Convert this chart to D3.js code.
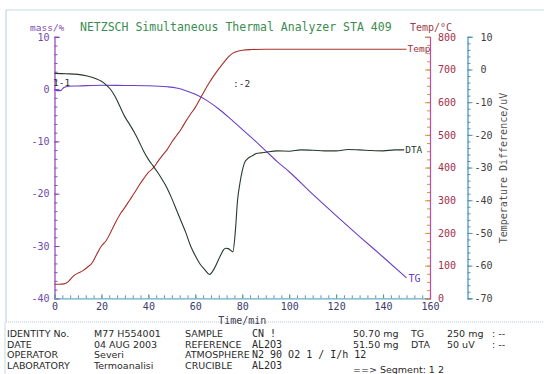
<!DOCTYPE html>
<meta charset="utf-8">
<style>
	body { margin: 0; background: #fff; }
	svg { display: block; }
	text { font-family: "DejaVu Sans Mono", monospace; }
	.info text { font-family: "DejaVu Sans", sans-serif; font-size: 9.5px; fill: #2a2a2a; }
	.info text.mono { font-family: "DejaVu Sans Mono", monospace; font-size: 10px; }
	.domain { stroke-width: 1.2; }
</style>
<body>
<script src="https://d3js.org/d3.v7.min.js"></script>
<script>

	// TG, mass change in %
	var tgTime = [0, 1, 2.5, 4, 6, 10, 20, 30, 40, 48, 52, 56, 60, 65, 70, 75, 80, 85, 90, 95, 100, 110, 120, 130, 140, 150];
	var tgMass = [-0.1, -0.3, -0.3, 0.3, 0.55, 0.6, 0.75, 0.7, 0.65, 0.45, 0.2, -0.3, -1, -2.2, -3.8, -5.7, -7.7, -9.7, -11.8, -13.9, -15.8, -20.1, -24.2, -28.2, -32.1, -36.1];

	// furnace temperature in degC
	var tempTime = [0, 2, 4, 6, 8, 10, 12, 14, 16, 18, 20, 22, 24, 26, 28, 30, 32, 34, 36, 38, 40, 42, 44, 46, 48, 50, 52, 54, 56, 58, 60, 62, 64, 66, 68, 70, 72, 74, 76, 78, 80, 84, 90, 150];
	var tempVals = [43, 43, 44, 52, 68, 77, 84, 95, 108, 135, 160, 176, 203, 232, 258, 278, 300, 322, 345, 366, 385, 398, 418, 437, 455, 478, 498, 518, 542, 564, 584, 610, 636, 660, 682, 702, 720, 738, 750, 756, 759, 761, 762, 762];

	// DTA, temperature difference in uV
	var dtaTime = [0, 5, 10, 14, 18, 20, 22, 24, 26, 28, 30, 32, 34, 36, 38, 40, 42, 44, 46, 48, 50, 52, 54, 56, 58, 60, 62, 64, 66, 68, 70, 71, 72, 73, 74, 75, 76, 77, 78, 79, 80, 81, 82, 84, 86, 88, 90, 95, 100, 105, 110, 115, 120, 125, 130, 135, 140, 145, 149];
	var dtaVals = [-1.2, -1.3, -1.5, -2.0, -2.9, -3.6, -4.7, -6.2, -8.5, -11.5, -14.5, -16.8, -19.2, -22, -25, -27.5, -29.5, -31.5, -33.8, -36.3, -39.5, -43, -46.5, -50, -54, -57, -59.5, -61.2, -62.7, -61, -58, -56.5, -55.2, -54.7, -54.8, -55.3, -55.8, -50, -40, -34.8, -31, -28.5, -27.5, -26.5, -25.7, -25.5, -25.3, -24.9, -25.0, -24.6, -24.7, -24.9, -24.9, -24.5, -24.6, -24.8, -24.9, -24.6, -24.6];

	var timeTicks = [0, 20, 40, 60, 80, 100, 120, 140, 160];
	var massTicks = [-40, -30, -20, -10, 0, 10];
	var tempTicks = [0, 100, 200, 300, 400, 500, 600, 700, 800];
	var dtaTicks = [-70, -60, -50, -40, -30, -20, -10, 0, 10];

	var infoRows = [
		["IDENTITY No.", "M77 H554001", "SAMPLE", "CN !", "50.70 mg", "TG", "250 mg", ": --"],
		["DATE", "04 AUG 2003", "REFERENCE", "AL2O3", "51.50 mg", "DTA", "50 uV", ": --"],
		["OPERATOR", "Severi", "ATMOSPHERE", "N2 90 O2 1 / I/h 12", "", "", "", ""],
		["LABORATORY", "Termoanalisi", "CRUCIBLE", "AL2O3", "", "", "", ""]
	];

	var width = 544, height = 374;

	var svg = d3.select("body").append("svg")
		.attr("width", width)
		.attr("height", height);

	var x = d3.scaleLinear().domain([0, 160]).range([54.5, 430]);
	var yMass = d3.scaleLinear().domain([-40, 10]).range([298.3, 36.8]);
	var yTemp = d3.scaleLinear().domain([0, 800]).range([298.3, 36.8]);
	var yDta = d3.scaleLinear().domain([-70, 10]).range([298.3, 36.8]);

	var plain = function(d) { return String(d); };

	// frame of the printout
	svg.append("path")
		.attr("d", "M6,322V10H544")
		.attr("fill", "none")
		.attr("stroke", "#c4d8e6")
		.attr("stroke-width", 1.2);
	svg.append("line")
		.attr("x1", 6).attr("x2", 544).attr("y1", 322).attr("y2", 322)
		.attr("stroke", "#b8c4cc")
		.attr("stroke-dasharray", "1,1");
	svg.append("line")
		.attr("x1", 5).attr("x2", 5).attr("y1", 322).attr("y2", 374)
		.attr("stroke", "#c4d8e6");

	// minor ticks
	function minor(axis, ticks, color) {
		return function(g) {
			g.call(axis.tickValues(ticks).tickFormat(""));
			g.select(".domain").remove();
			g.selectAll("line").attr("stroke", color);
		};
	}

	svg.append("g")
		.attr("transform", "translate(" + x.range()[0] + ",0)")
		.call(minor(d3.axisLeft(yMass).tickSize(-3), d3.range(-40, 10.01, 10 / 6), "#8a50c0"));
	svg.append("g")
		.attr("transform", "translate(0," + yMass.range()[0] + ")")
		.call(minor(d3.axisBottom(x).tickSize(-3), d3.range(0, 160.01, 20 / 6), "#5a9ab0"));
	svg.append("g")
		.attr("transform", "translate(430,0)")
		.call(minor(d3.axisRight(yTemp).tickSize(-3), d3.range(0, 800.01, 25), "#c8a030"));
	svg.append("g")
		.attr("transform", "translate(467.5,0)")
		.call(minor(d3.axisRight(yDta).tickSize(3), d3.range(-70, 10.01, 2), "#4a9ab8"));

	// main axes
	var massAxis = svg.append("g")
		.attr("transform", "translate(" + x.range()[0] + ",0)")
		.call(d3.axisLeft(yMass).tickValues(massTicks).tickFormat(plain).tickSize(-5).tickPadding(5));
	massAxis.select(".domain").attr("stroke", "#9040c0");
	massAxis.selectAll(".tick line").attr("stroke", "#9040c0");
	massAxis.selectAll("text").attr("fill", "#7048b0").style("font-size", "10px");

	var timeAxis = svg.append("g")
		.attr("transform", "translate(0," + yMass.range()[0] + ")")
		.call(d3.axisBottom(x).tickValues(timeTicks).tickFormat(plain).tickSize(-4).tickPadding(5));
	timeAxis.select(".domain").attr("stroke", "#6aaac4");
	timeAxis.selectAll(".tick line").attr("stroke", "#50a070");
	timeAxis.selectAll("text").attr("fill", "#3a3a6a").style("font-size", "10px");

	var tempAxis = svg.append("g")
		.attr("transform", "translate(430,0)")
		.call(d3.axisRight(yTemp).tickValues(tempTicks).tickFormat(plain).tickSize(-5).tickPadding(8));
	tempAxis.select(".domain").attr("stroke", "#c048a8");
	tempAxis.selectAll(".tick line").attr("stroke", "#c8a030");
	tempAxis.selectAll("text").attr("fill", "#a03048").style("font-size", "10px");

	var dtaAxis = svg.append("g")
		.attr("transform", "translate(467.5,0)")
		.call(d3.axisRight(yDta).tickValues(dtaTicks).tickFormat(plain).tickSize(5).tickPadding(8));
	dtaAxis.select(".domain").attr("stroke", "#4a8ec0");
	dtaAxis.selectAll(".tick line").attr("stroke", "#4a9ab8");
	dtaAxis.selectAll("text")
		.attr("fill", "#404040")
		.style("font-size", "10px")
		.attr("x", function(d) { return d < 0 ? 7 : 13; });

	svg.selectAll(".tick text").attr("font-family", "DejaVu Sans Mono");

	// titles
	svg.append("text")
		.attr("x", 80).attr("y", 31)
		.attr("fill", "#3a8c50")
		.style("font-size", "11.5px")
		.text("NETZSCH Simultaneous Thermal Analyzer STA 409");
	svg.append("text")
		.attr("x", 30).attr("y", 31)
		.attr("fill", "#8050b0")
		.style("font-size", "9.5px")
		.text("mass/%");
	svg.append("text")
		.attr("x", 410).attr("y", 31)
		.attr("fill", "#a04048")
		.style("font-size", "10px")
		.text("Temp/°C");
	svg.append("text")
		.attr("x", (x.range()[0] + x.range()[1]) / 2).attr("y", 324)
		.attr("text-anchor", "middle")
		.attr("fill", "#404050")
		.style("font-size", "10px")
		.text("Time/min");
	svg.append("text")
		.attr("transform", "translate(507,168) rotate(-90)")
		.attr("text-anchor", "middle")
		.attr("fill", "#505050")
		.style("font-size", "10px")
		.text("Temperature Difference/uV");

	// curves
	var lineTG = d3.line()
		.x(function(d) { return x(d[0]); })
		.y(function(d) { return yMass(d[1]); })
		.curve(d3.curveMonotoneX);
	var lineTemp = d3.line()
		.x(function(d) { return x(d[0]); })
		.y(function(d) { return yTemp(d[1]); })
		.curve(d3.curveMonotoneX);
	var lineDta = d3.line()
		.x(function(d) { return x(d[0]); })
		.y(function(d) { return yDta(d[1]); })
		.curve(d3.curveMonotoneX);

	svg.append("path")
		.datum(d3.zip(tempTime, tempVals))
		.attr("fill", "none")
		.attr("stroke", "#a8302c")
		.attr("stroke-width", 1.1)
		.attr("d", lineTemp);
	svg.append("path")
		.datum(d3.zip(tgTime, tgMass))
		.attr("fill", "none")
		.attr("stroke", "#6a40c4")
		.attr("stroke-width", 1.1)
		.attr("d", lineTG);
	svg.append("path")
		.datum(d3.zip(dtaTime, dtaVals))
		.attr("fill", "none")
		.attr("stroke", "#263a2c")
		.attr("stroke-width", 1.1)
		.attr("d", lineDta);

	// curve labels
	var lastT = tempTime.length - 1, lastG = tgTime.length - 1, lastD = dtaTime.length - 1;
	svg.append("text")
		.attr("x", x(tempTime[lastT]) + 1).attr("y", yTemp(tempVals[lastT]) + 3)
		.attr("fill", "#a03040").style("font-size", "9.5px")
		.text("Temp");
	svg.append("text")
		.attr("x", x(tgTime[lastG]) + 2).attr("y", yMass(tgMass[lastG]) + 4)
		.attr("fill", "#6a40c4").style("font-size", "10px")
		.text("TG");
	svg.append("text")
		.attr("x", x(dtaTime[lastD]) + 1).attr("y", yDta(dtaVals[lastD]) + 3.5)
		.attr("fill", "#263a2c").style("font-size", "9.5px")
		.text("DTA");
	svg.append("text")
		.attr("x", 53).attr("y", 86)
		.attr("fill", "#303030").style("font-size", "9.5px")
		.text("1-1");
	svg.append("text")
		.attr("x", 233).attr("y", 87)
		.attr("fill", "#303030").style("font-size", "9.5px")
		.text(":-2");

	// info block
	var colX = [7, 94, 185, 252, 353, 411, 447, 492];
	var rowY = [337, 347.5, 358, 368.5];
	var info = svg.append("g").attr("class", "info");
	infoRows.forEach(function(row, r) {
		row.forEach(function(t, c) {
			if (!t) return;
			info.append("text")
				.attr("class", c === 3 ? "mono" : null)
				.attr("x", colX[c]).attr("y", rowY[r])
				.text(t);
		});
	});
	info.append("text")
		.attr("x", 353).attr("y", 373)
		.text("==> Segment:  1    2");

</script>
